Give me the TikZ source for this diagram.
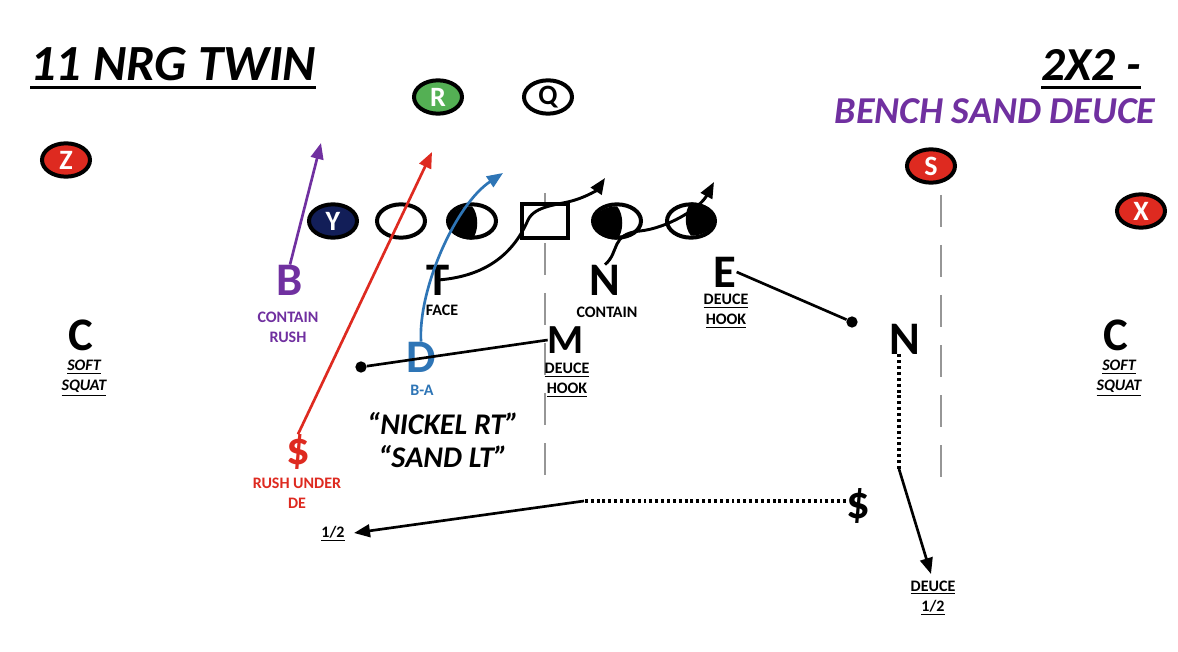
\documentclass[tikz,border=0pt]{standalone}
\usepackage{fontspec}
\setmainfont{Carlito}
\usetikzlibrary{arrows.meta,shapes.geometric}
\definecolor{pred}{RGB}{222,42,32}
\definecolor{pgreen}{RGB}{84,176,84}
\definecolor{pnavy}{RGB}{18,30,88}
\definecolor{ppurple}{RGB}{112,48,160}
\definecolor{pblue}{RGB}{46,117,182}
\definecolor{pgray}{RGB}{150,150,150}
\begin{document}
\begin{tikzpicture}[x=0.75pt,y=-0.75pt,
  plyr/.style={ellipse,draw=black,line width=3pt,minimum width=36pt,minimum height=25pt,inner sep=0pt,font=\bfseries\fontsize{21}{21}\selectfont,text=white},
  lin/.style={plyr,fill=white},
  ctr/.style={rectangle,draw=black,line width=3pt,minimum width=34.5pt,minimum height=25pt,inner sep=0pt,fill=white},
  dl/.style={inner sep=0pt,font=\bfseries\fontsize{35}{35}\selectfont},
  lbl/.style={inner sep=0pt,align=center,font=\bfseries\fontsize{12}{15}\selectfont},
  ilbl/.style={lbl,font=\bfseries\itshape\fontsize{12}{15}\selectfont},
  route/.style={line width=2pt,-{Triangle[length=12pt,width=9.5pt]}},
  hashl/.style={pgray,line width=1.5pt,dash pattern=on 24pt off 13.5pt},
  dotl/.style={line width=2.6pt,dash pattern=on 2.2pt off 2.2pt},
  bdot/.style={circle,fill=black,inner sep=0pt,minimum size=8.5pt},
  ttl/.style={inner sep=0pt,font=\bfseries\itshape\fontsize{37}{37}\selectfont}
]
\useasboundingbox[fill=white] (0,0) rectangle (1178,652);

% titles
\node[ttl,anchor=base west,font=\bfseries\itshape\fontsize{38}{38}\selectfont] (title) at (30,81) {11 NRG TWIN};
\draw[line width=2.2pt] ([yshift=-5pt]title.base west) -- ([yshift=-5pt]title.base east);
\node[ttl,anchor=base east,font=\bfseries\itshape\fontsize{35.5}{36}\selectfont] (form) at (1141,81) {2X2 -};
\draw[line width=2.2pt] ([yshift=-5pt]form.base west) -- ([yshift=-5pt]form.base east);
\node[inner sep=0pt,font=\bfseries\itshape\fontsize{28.5}{29}\selectfont,text=ppurple] (call) at (995,111) {BENCH SAND DEUCE};

% hash marks
\coordinate (hl1) at (545,193);
\coordinate (hl2) at (545,478);
\coordinate (hr1) at (941,195);
\coordinate (hr2) at (941,478);
\draw[hashl] (hl1) -- (hl2);
\draw[hashl] (hr1) -- (hr2);

% offense
\node[plyr,fill=pred] (Z) at (66,160) {Z};
\node[plyr,fill=pgreen] (R) at (438,97) {R};
\node[plyr,fill=white,text=black] (Q) at (548,97) {Q};
\node[plyr,fill=pred] (S) at (931,166) {S};
\node[plyr,fill=pred] (X) at (1141,211) {X};
\node[plyr,fill=pnavy] (Y) at (333,221) {Y};
\node[lin] (o2) at (401,221) {};
\node[lin] (o3) at (472,221) {};
\node[ctr] (oc) at (545,221) {};
\node[lin] (o5) at (617,221) {};
\node[lin] (o6) at (691,221) {};
\fill (o3.south) arc[start angle=90,end angle=270,x radius=24,y radius=16.7] .. controls ++(7,8) and ++(7,-8) .. cycle;
\fill (o5.south) arc[start angle=90,end angle=270,x radius=24,y radius=16.7] .. controls ++(7,8) and ++(7,-8) .. cycle;
\fill (o6.north) arc[start angle=270,end angle=450,x radius=24,y radius=16.7] .. controls ++(-7,-8) and ++(-7,8) .. cycle;

% defense
\node[dl,text=ppurple] (B) at (290,280) {B};
\node[lbl,text=ppurple] (Blbl) at (288,327) {CONTAIN\\RUSH};
\node[dl] (T) at (438,280) {T};
\node[lbl] (Tlbl) at (442,310) {FACE};
\node[dl] (N) at (605,280) {N};
\node[lbl] (Nlbl) at (607,312) {CONTAIN};
\node[dl] (E) at (725,272) {E};
\node[lbl] (Elbl) at (726,311) {\underline{DEUCE}\\\underline{HOOK}};
\node[dl] (CL) at (81,335) {C};
\node[ilbl] (CLlbl) at (84,378) {\underline{SOFT}\\\underline{SQUAT}};
\node[dl] (CR) at (1116,335) {C};
\node[ilbl] (CRlbl) at (1119,378) {\underline{SOFT}\\\underline{SQUAT}};
\node[dl,text=pblue] (D) at (421,357) {D};
\node[lbl,text=pblue] (Dlbl) at (422,390) {B-A};
\node[dl,font=\bfseries\fontsize{31}{31}\selectfont] (M) at (566,340) {M};
\node[lbl] (Mlbl) at (567,380) {\underline{DEUCE}\\\underline{HOOK}};
\node[dl] (N2) at (905,339) {N};
\node[dl,text=pred] (rs) at (298,452) {\$};
\node[lbl,text=pred] (rslbl) at (297,493) {RUSH UNDER\\DE};
\node[dl] (bs) at (858,506) {\$};
\node[lbl] (half) at (333,534) {\underline{1/2}};
\node[lbl] (dhalf) at (933,598) {\underline{DEUCE}\\\underline{1/2}};
\node[inner sep=0pt,align=center,font=\bfseries\itshape\fontsize{22.5}{24.5}\selectfont] (call2) at (443,440) {“NICKEL RT”\\“SAND LT”};

% routes
\coordinate (pB) at (321,143);
\coordinate (pR) at (432,152);
\coordinate (pD) at (503,173);
\coordinate (pT) at (605,178);
\coordinate (pN) at (714,182);
\draw[route,ppurple] (B.north) -- (pB);
\draw[route,pred] (rs.north) -- (pR);
\draw[route,pblue] (D.north) .. controls (418,290) and (455,205) .. (pD);
\draw[route,line width=2.2pt] (T.center) .. controls (490,276) and (515,250) .. (528,220) .. controls (535,205) and (560,205) .. (575,200) .. controls (588,196) and (597,190) .. (pT);
\draw[route,line width=2.2pt] (N.north) .. controls (620,252) and (610,234) .. (640,231) .. controls (668,228) and (700,208) .. (pN);

% defensive drops
\node[bdot] (dE) at (852,322) {};
\node[bdot] (dM) at (361,367) {};
\draw[line width=2pt] (E.east) -- (dE);
\draw[line width=2pt] (M.west) -- (dM);
\coordinate (kN) at (899,469);
\coordinate (pN2) at (931,574);
\draw[dotl] ([xshift=-4.5pt]N2.south) -- (kN);
\draw[route] (kN) -- (pN2);
\coordinate (kS) at (584,501);
\coordinate (pS) at (354,533);
\draw[dotl] ([yshift=3.75pt]bs.west) -- (kS);
\draw[route] (kS) -- (pS);
\end{tikzpicture}
\end{document}
